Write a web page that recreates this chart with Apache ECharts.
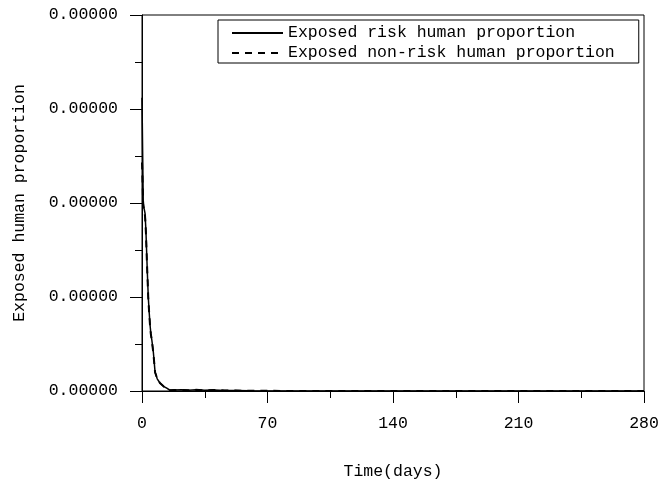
<!DOCTYPE html>
<html>
<head>
<meta charset="utf-8">
<script src="https://cdn.jsdelivr.net/npm/echarts@6/dist/echarts.min.js"></script>
<style>
html,body{margin:0;padding:0;background:#fff;}
#chart{width:660px;height:480px;}
</style>
</head>
<body>
<div id="chart"></div>
<script>
// Time in days
const days = [0, 0.35, 0.7, 1.2, 1.7, 2.2, 2.6, 3.0, 3.5, 4.0, 4.5, 4.9, 5.5, 6.3, 7.3, 8.5, 10, 12, 13.8, 15.6, 18, 22, 26, 30, 35, 40, 46, 52, 60, 80, 120, 160, 200, 240, 280];
// Values in units of 1e-6
const riskValues = [3.12, 2.55, 2.0, 1.94, 1.89, 1.7, 1.47, 1.25, 1.0, 0.84, 0.7, 0.62, 0.54, 0.42, 0.2, 0.13, 0.085, 0.05, 0.03, 0.008, 0.01, 0.012, 0.008, 0.012, 0.008, 0.01, 0.006, 0.005, 0.002, 0.001, 0, 0, 0, 0, 0];
const nonRiskValues = [2.43, 2.2, 1.97, 1.92, 1.86, 1.68, 1.45, 1.24, 0.99, 0.83, 0.69, 0.61, 0.53, 0.41, 0.2, 0.13, 0.085, 0.05, 0.03, 0.008, 0.01, 0.012, 0.008, 0.012, 0.008, 0.01, 0.006, 0.005, 0.002, 0.001, 0, 0, 0, 0, 0];
const seriesNames = ['Exposed risk human proportion', 'Exposed non-risk human proportion'];
const xTicks = [0, 70, 140, 210, 280];
const yUnit = 1e-6;

const FONT = 'Liberation Mono';
const FS = 16.5;
const chart = echarts.init(document.getElementById('chart'), null, {renderer: 'canvas'});
const pairs = (vals) => days.map((d, i) => [d, vals[i]]);

const option = {
  backgroundColor: '#fff',
  animation: false,
  textStyle: {fontFamily: FONT, color: '#000'},
  grid: {left: 142, right: 16, top: 15, bottom: 89, containLabel: false, outerBoundsMode: 'none',
    show: true, borderColor: '#000', borderWidth: 1, backgroundColor: 'transparent'},
  legend: {
    orient: 'vertical',
    left: 218,
    top: 20,
    padding: [4, 24, 1, 13],
    itemGap: 2,
    itemWidth: 51,
    itemHeight: 14,
    backgroundColor: '#fff',
    borderColor: '#000',
    borderWidth: 1,
    borderRadius: 0,
    itemStyle: {opacity: 0},
    textStyle: {fontFamily: FONT, fontSize: FS, color: '#000', lineHeight: 18},
    data: seriesNames
  },
  xAxis: {
    type: 'value',
    min: xTicks[0],
    max: xTicks[xTicks.length - 1],
    interval: 70,
    name: 'Time(days)',
    nameLocation: 'middle',
    nameGap: 72,
    nameTextStyle: {fontFamily: FONT, fontSize: FS, color: '#000'},
    axisLine: {show: true, lineStyle: {color: '#000', width: 1}},
    axisTick: {show: true, length: 12, lineStyle: {color: '#000'}},
    minorTick: {show: true, splitNumber: 2, length: 7, lineStyle: {color: '#000'}},
    splitLine: {show: false},
    axisLabel: {fontFamily: FONT, fontSize: FS, color: '#000', margin: 24}
  },
  yAxis: {
    type: 'value',
    min: 0,
    max: 4,
    interval: 1,
    name: 'Exposed human proportion',
    nameLocation: 'middle',
    nameGap: 114,
    nameTextStyle: {fontFamily: FONT, fontSize: FS, color: '#000'},
    axisLine: {show: true, lineStyle: {color: '#000', width: 1}},
    axisTick: {show: true, length: 12, lineStyle: {color: '#000'}},
    minorTick: {show: true, splitNumber: 2, length: 7, lineStyle: {color: '#000'}},
    splitLine: {show: false},
    axisLabel: {fontFamily: FONT, fontSize: FS, color: '#000', margin: 24,
      formatter: (v) => (v * yUnit).toFixed(5)}
  },
  series: [
    {
      name: seriesNames[0],
      type: 'line',
      data: pairs(riskValues),
      symbol: 'none',
      smooth: false,
      lineStyle: {color: '#000', width: 1.5, type: 'solid'},
      itemStyle: {color: '#000'}
    },
    {
      name: seriesNames[1],
      type: 'line',
      data: pairs(nonRiskValues),
      symbol: 'none',
      smooth: false,
      lineStyle: {color: '#000', width: 2, type: [7, 6]},
      itemStyle: {color: '#000'}
    }
  ]
};
chart.setOption(option);
</script>
</body>
</html>
